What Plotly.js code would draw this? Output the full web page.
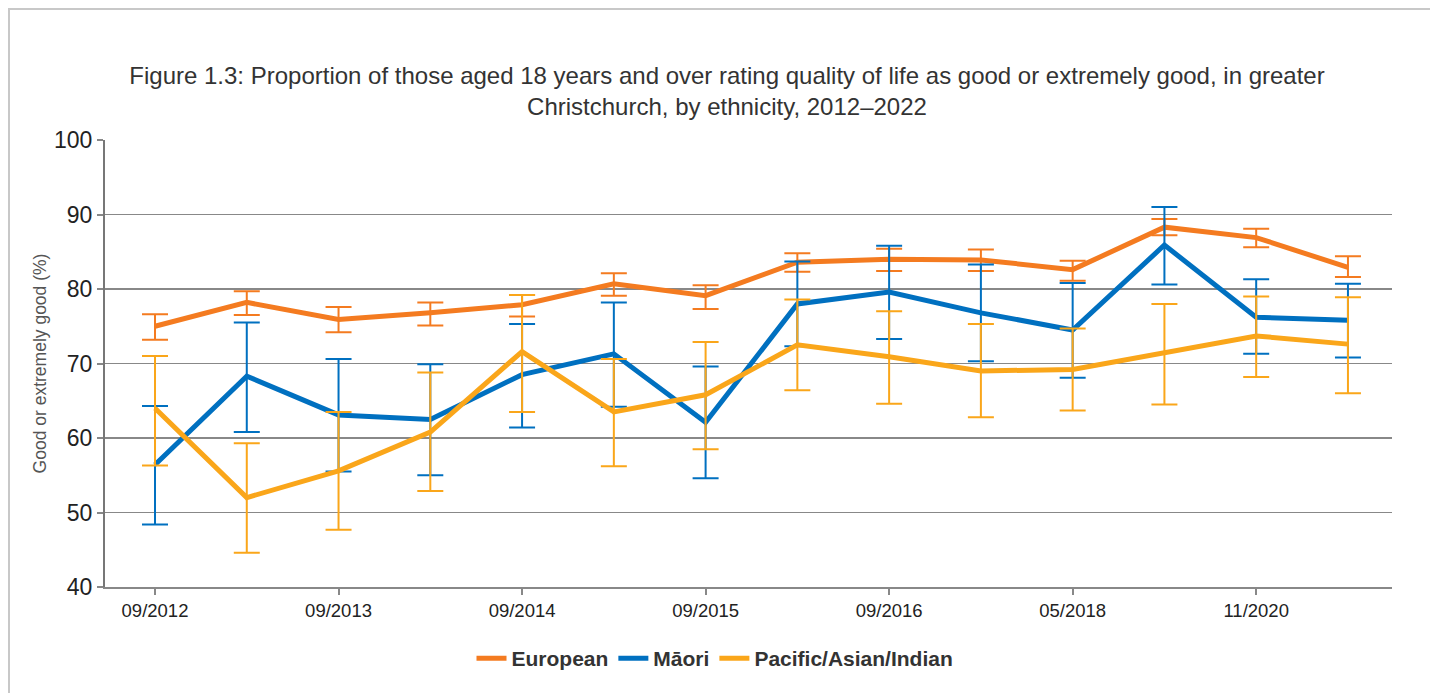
<!DOCTYPE html>
<html>
<head>
<meta charset="utf-8">
<script src="https://cdn.plot.ly/plotly-3.0.1.min.js"></script>
<style>
  html, body { margin: 0; padding: 0; background: #fff; }
  #frame { position: absolute; left: 8px; top: 8px; width: 1440px; height: 700px; border: 2px solid #c8c8c8; box-sizing: border-box; }
  #chart { position: absolute; left: 0; top: 0; width: 1430px; height: 693px; }
</style>
</head>
<body>
<div id="frame"></div>
<div id="chart"></div>
<script>
// Survey waves (only every other one is labelled on the axis)
const categories = ["09/2012", "03/2013", "09/2013", "03/2014", "09/2014", "03/2015", "09/2015",
                    "03/2016", "09/2016", "2017", "05/2018", "2019", "11/2020", "2022"];
const tickLabels = ["09/2012", "09/2013", "09/2014", "09/2015", "09/2016", "05/2018", "11/2020"];

const european      = [75.0, 78.2, 75.9, 76.8, 77.9, 80.7, 79.1, 83.6, 84.0, 83.9, 82.6, 88.3, 86.9, 82.9];
const europeanHigh  = [76.6, 79.7, 77.6, 78.2, 79.2, 82.1, 80.5, 84.8, 85.4, 85.3, 83.8, 89.4, 88.1, 84.4];
const europeanLow   = [73.2, 76.5, 74.2, 75.1, 76.3, 79.1, 77.3, 82.3, 82.4, 82.4, 81.1, 87.2, 85.6, 81.6];

const maori         = [56.4, 68.3, 63.1, 62.5, 68.5, 71.3, 62.1, 78.0, 79.6, 76.8, 74.5, 85.9, 76.2, 75.8];
const maoriHigh     = [64.3, 75.5, 70.6, 69.9, 75.3, 78.2, 69.6, 83.7, 85.8, 83.3, 80.8, 91.0, 81.3, 80.7];
const maoriLow      = [48.4, 60.8, 55.5, 55.0, 61.4, 64.2, 54.6, 72.3, 73.3, 70.3, 68.1, 80.6, 71.3, 70.8];

const pacific       = [64.0, 52.0, 55.6, 60.8, 71.6, 63.5, 65.8, 72.5, 70.9, 69.0, 69.2, 71.4, 73.7, 72.6];
const pacificHigh   = [71.0, 59.3, 63.5, 68.8, 79.2, 70.6, 72.9, 78.6, 77.0, 75.3, 74.7, 78.0, 79.0, 78.9];
const pacificLow    = [56.3, 44.6, 47.7, 52.9, 63.5, 56.2, 58.5, 66.4, 64.6, 62.8, 63.7, 64.5, 68.2, 66.0];

const seriesNames = ["European", "Māori", "Pacific/Asian/Indian"];
const colors = ["#F47B20", "#0070C0", "#FAA61A"];

function mk(name, vals, hi, lo, color) {
  return {
    type: "scatter", mode: "lines", name: name,
    x: categories, y: vals,
    line: { color: color, width: 5 },
    error_y: {
      type: "data", symmetric: false,
      array: hi.map((h, i) => +(h - vals[i]).toFixed(2)),
      arrayminus: lo.map((l, i) => +(vals[i] - l).toFixed(2)),
      color: color, thickness: 2, width: 13, visible: true
    }
  };
}

const data = [
  mk(seriesNames[0], european, europeanHigh, europeanLow, colors[0]),
  mk(seriesNames[1], maori, maoriHigh, maoriLow, colors[1]),
  mk(seriesNames[2], pacific, pacificHigh, pacificLow, colors[2])
];

const layout = {
  width: 1430, height: 693,
  paper_bgcolor: "rgba(0,0,0,0)", plot_bgcolor: "#fff",
  margin: { l: 105, r: 38, t: 140, b: 106 },
  font: { family: "Liberation Sans, Arial, sans-serif", color: "#333" },
  title: {
    text: "Figure 1.3: Proportion of those aged 18 years and over rating quality of life as good or extremely good, in greater<br>Christchurch, by ethnicity, 2012–2022",
    font: { size: 24, color: "#333", family: "Liberation Sans, Arial, sans-serif" },
    x: 727 / 1430, xanchor: "center", xref: "container",
    y: 1 - 84 / 693, yanchor: "top", yref: "container"
  },
  xaxis: {
    type: "category",
    categoryorder: "array", categoryarray: categories,
    range: [-0.545, 13.48],
    tickmode: "array", tickvals: tickLabels, ticktext: tickLabels,
    ticks: "outside", ticklen: 6, tickcolor: "#888", tickwidth: 2,
    showline: true, linecolor: "#888", linewidth: 2,
    showgrid: false, zeroline: false,
    tickfont: { size: 18.5, color: "#222" }
  },
  yaxis: {
    range: [40, 100], dtick: 10, tick0: 40,
    ticks: "outside", ticklen: 6, tickcolor: "#888", tickwidth: 2,
    showline: true, linecolor: "#777", linewidth: 2,
    gridcolor: "#888", gridwidth: 1.5, zeroline: false,
    tickfont: { size: 23, color: "#222" },
    title: { text: "Good or extremely good (%)", font: { size: 17.5, color: "#555" }, standoff: 3 }
  },
  showlegend: true,
  legend: {
    orientation: "h", x: 0.5, xanchor: "center", xref: "container",
    y: 1 - 638 / 693, yanchor: "top", yref: "container",
    font: { size: 21, color: "#333", family: "Liberation Sans, Arial, sans-serif", weight: "bold" },
    itemwidth: 30
  }
};

Plotly.newPlot("chart", data, layout, { displayModeBar: false, staticPlot: true });
</script>
</body>
</html>
